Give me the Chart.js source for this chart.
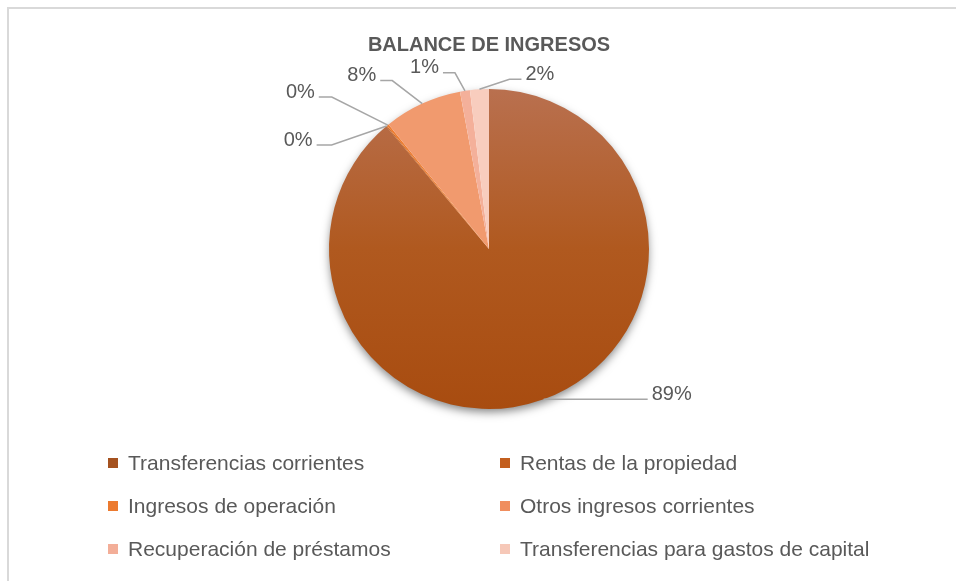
<!DOCTYPE html>
<html lang="es">
<head>
<meta charset="UTF-8">
<title>Balance de ingresos</title>
<script src="https://cdn.jsdelivr.net/npm/chart.js"></script>
<style>
  body { margin: 0; background: #fff; }
  #wrap { position: relative; width: 956px; height: 581px; overflow: hidden; }
  #frame { position: absolute; left: 7px; top: 7px; right: -10px; bottom: -10px;
           border-left: 2px solid #d9d9d9; border-top: 2px solid #d9d9d9; }
  #chart { position: absolute; left: 0; top: 0; }
  #legend { position: absolute; left: 108px; top: 441px; display: grid;
            grid-template-columns: 392px auto; grid-auto-rows: 43px;
            font-family: "Liberation Sans", sans-serif; font-size: 21px; color: #595959; }
  .item { display: flex; align-items: center; white-space: nowrap; }
  .box { width: 10px; height: 10px; margin-right: 10px; flex: none; }
</style>
</head>
<body>
<div id="wrap">
  <div id="frame"></div>
  <canvas id="chart" width="956" height="581"></canvas>
  <div id="legend"></div>
</div>
<script>
// data (share of total income, %)
const categories = [
  'Transferencias corrientes',
  'Rentas de la propiedad',
  'Ingresos de operación',
  'Otros ingresos corrientes',
  'Recuperación de préstamos',
  'Transferencias para gastos de capital'
];
const shares = [88.9, 0.1, 0.2, 7.9, 1.0, 1.9];

const sliceColors = ['#ad5418', '#c55a11', '#ed7d31', '#f19a6e', '#f4b09a', '#f8cdbe'];
const legendColors = ['#a5521f', '#c35f1f', '#ec7a2f', '#f08e5e', '#f3ae98', '#f6c8b8'];

// leader line shape per slice: [elbow dx, elbow dy, horizontal run]
const leaderShape = [[0, 0, 104], [-55, 19, -15], [-56, -28, -13], [-30, -23, -12], [-10, -18, -12], [30, -10, 12]];

const total = shares.reduce((a, b) => a + b, 0);

// soft shadow under the whole pie
const pieShadow = {
  id: 'pieShadow',
  beforeDatasetsDraw(chart) {
    const arc = chart.getDatasetMeta(0).data[0];
    const p = arc.getProps(['x', 'y', 'outerRadius'], true);
    const ctx = chart.ctx;
    ctx.save();
    ctx.shadowColor = 'rgba(0,0,0,0.5)';
    ctx.shadowBlur = 10;
    ctx.shadowOffsetY = 4;
    ctx.fillStyle = '#fff';
    ctx.beginPath();
    ctx.arc(p.x, p.y, p.outerRadius - 1, 0, Math.PI * 2);
    ctx.fill();
    ctx.restore();
  }
};

// percentage labels with leader lines
const leaderLabels = {
  id: 'leaderLabels',
  afterDatasetsDraw(chart) {
    const ctx = chart.ctx;
    chart.getDatasetMeta(0).data.forEach((arc, i) => {
      const p = arc.getProps(['x', 'y', 'startAngle', 'endAngle', 'outerRadius'], true);
      const mid = (p.startAngle + p.endAngle) / 2;
      const ax = p.x + Math.cos(mid) * p.outerRadius;
      const ay = p.y + Math.sin(mid) * p.outerRadius;
      const [ex, ey, run] = leaderShape[i];
      const bx = ax + ex, by = ay + ey, cx = bx + run;
      ctx.save();
      ctx.strokeStyle = '#a6a6a6';
      ctx.lineWidth = 1.5;
      ctx.beginPath();
      ctx.moveTo(ax, ay);
      ctx.lineTo(bx, by);
      ctx.lineTo(cx, by);
      ctx.stroke();
      ctx.fillStyle = '#595959';
      ctx.font = '20px "Liberation Sans"';
      ctx.textBaseline = 'middle';
      ctx.textAlign = run >= 0 ? 'left' : 'right';
      ctx.fillText(Math.round(shares[i] / total * 100) + '%', cx + (run >= 0 ? 4 : -4), by - 5);
      ctx.restore();
    });
  }
};

const chart = new Chart(document.getElementById('chart'), {
  type: 'pie',
  data: {
    labels: categories,
    datasets: [{
      data: shares,
      borderWidth: 0,
      backgroundColor: c => {
        const i = c.dataIndex;
        const area = c.chart.chartArea;
        if (i !== 0 || !area) return sliceColors[i];
        const g = c.chart.ctx.createLinearGradient(0, area.top, 0, area.bottom);
        g.addColorStop(0, '#b9704f');
        g.addColorStop(0.5, '#b0591f');
        g.addColorStop(1, '#a84c10');
        return g;
      }
    }]
  },
  options: {
    responsive: false,
    animation: false,
    events: [],
    layout: { padding: { left: 22, right: 0, top: 0, bottom: 172 } },
    plugins: {
      legend: { display: false },
      tooltip: { enabled: false },
      title: {
        display: true,
        text: 'BALANCE DE INGRESOS',
        color: '#595959',
        font: { family: 'Liberation Sans', size: 20, weight: 'bold', lineHeight: 1.2 },
        padding: { top: 33, bottom: 32 }
      }
    }
  },
  plugins: [pieShadow, leaderLabels]
});

// two-column legend under the chart
const legend = document.getElementById('legend');
categories.forEach((name, i) => {
  const item = document.createElement('div');
  item.className = 'item';
  const box = document.createElement('span');
  box.className = 'box';
  box.style.background = legendColors[i];
  const txt = document.createElement('span');
  txt.textContent = name;
  item.appendChild(box);
  item.appendChild(txt);
  legend.appendChild(item);
});
</script>
</body>
</html>
